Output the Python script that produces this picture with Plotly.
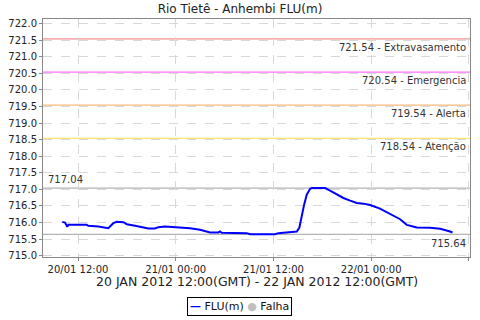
import plotly.graph_objects as go

times = [
    "2012-01-20 10:04", "2012-01-20 10:24", "2012-01-20 10:41", "2012-01-20 10:49",
    "2012-01-20 13:04", "2012-01-20 13:16", "2012-01-20 14:30", "2012-01-20 15:32",
    "2012-01-20 15:43", "2012-01-20 16:20", "2012-01-20 16:45", "2012-01-20 17:34",
    "2012-01-20 18:00", "2012-01-20 19:00", "2012-01-20 20:01", "2012-01-20 20:38",
    "2012-01-20 21:27", "2012-01-20 21:52", "2012-01-20 22:41", "2012-01-20 23:18",
    "2012-01-20 23:55", "2012-01-21 00:56", "2012-01-21 01:45", "2012-01-21 02:59",
    "2012-01-21 04:13", "2012-01-21 05:14", "2012-01-21 05:26", "2012-01-21 05:39",
    "2012-01-21 08:43", "2012-01-21 09:08", "2012-01-21 12:12", "2012-01-21 12:36",
    "2012-01-21 13:38", "2012-01-21 14:52", "2012-01-21 15:11", "2012-01-21 15:21",
    "2012-01-21 15:29", "2012-01-21 15:46", "2012-01-21 16:05", "2012-01-21 16:30",
    "2012-01-21 16:42", "2012-01-21 18:20", "2012-01-21 18:57", "2012-01-21 19:47",
    "2012-01-21 20:35", "2012-01-21 21:25", "2012-01-21 22:14", "2012-01-21 23:03",
    "2012-01-21 23:52", "2012-01-22 01:05", "2012-01-22 02:19", "2012-01-22 03:33",
    "2012-01-22 04:22", "2012-01-22 05:36", "2012-01-22 07:14", "2012-01-22 08:28",
    "2012-01-22 09:41", "2012-01-22 09:59",
]
flu = [
    716.02, 716.00, 715.87, 715.93,
    715.93, 715.90, 715.88, 715.83,
    715.83, 715.98, 716.02, 716.01,
    715.95, 715.90, 715.85, 715.82,
    715.82, 715.86, 715.88, 715.87,
    715.87, 715.85, 715.83, 715.78,
    715.70, 715.70, 715.73, 715.69,
    715.68, 715.65, 715.65, 715.68,
    715.71, 715.73, 715.85, 716.05,
    716.30, 716.54, 716.84, 717.02,
    717.04, 717.04, 716.96, 716.84,
    716.74, 716.66, 716.59, 716.57,
    716.53, 716.42, 716.27, 716.10,
    715.93, 715.85, 715.84, 715.81,
    715.73, 715.70,
]

threshold_values = [721.54, 720.54, 719.54, 718.54]
threshold_names = ["Extravasamento", "Emergencia", "Alerta", "Atenção"]
threshold_colors = ["#f09090", "#ff70ff", "#f8b878", "#ffe270"]

max_value = 717.04
min_value = 715.64

x_range = ["2012-01-20 07:42", "2012-01-22 12:08"]
y_range = [714.96, 722.14]

title = "Rio Tietê - Anhembi FLU(m)"
x_title = "20 JAN 2012 12:00(GMT) - 22 JAN 2012 12:00(GMT)"
series_name = "FLU(m)"
fail_name = "Falha"
series_color = "#0000ff"
fail_color = "#c0c0c0"

fig = go.Figure()

fig.add_trace(go.Scatter(
    x=times, y=flu, mode="lines", name=series_name,
    line=dict(color=series_color, width=2), showlegend=False,
))
fig.add_trace(go.Scatter(
    x=[None], y=[None], mode="markers", name=fail_name,
    marker=dict(color=fail_color, size=9), showlegend=False,
))

shapes = []
annotations = []
for v, n, c in zip(threshold_values, threshold_names, threshold_colors):
    shapes.append(dict(type="line", xref="paper", yref="y", x0=0, x1=1, y0=v, y1=v,
                       line=dict(color=c, width=1.2), layer="below"))
    annotations.append(dict(xref="paper", yref="y", x=0.995, y=v, text=f"{v:.2f} - {n}",
                            showarrow=False, xanchor="right", yanchor="top", yshift=-1,
                            font=dict(family="DejaVu Sans", size=10, color="#333333")))

for v in (max_value, min_value):
    shapes.append(dict(type="line", xref="paper", yref="y", x0=0, x1=1, y0=v, y1=v,
                       line=dict(color="#b4b4b4", width=1.2), layer="below"))
annotations.append(dict(xref="paper", yref="y", x=0.008, y=max_value, text=f"{max_value:.2f}",
                        showarrow=False, xanchor="left", yanchor="bottom", yshift=1,
                        font=dict(family="DejaVu Sans", size=10, color="#333333")))
annotations.append(dict(xref="paper", yref="y", x=0.995, y=min_value, text=f"{min_value:.2f}",
                        showarrow=False, xanchor="right", yanchor="top", yshift=-2,
                        font=dict(family="DejaVu Sans", size=10, color="#333333")))
annotations.append(dict(xref="paper", yref="paper", x=0.502, y=-0.105,
                        text=x_title, showarrow=False, xanchor="center", yanchor="middle",
                        font=dict(family="DejaVu Sans", size=12.5, color="#222222")))
# compact boxed legend
legend_text = (f"<span style='color:{series_color}'><b>—</b></span> {series_name} "
               f"<span style='color:{fail_color}'>●</span> {fail_name}")
annotations.append(dict(xref="paper", yref="paper", x=0.461, y=-0.21,
                        text=legend_text, showarrow=False, xanchor="center", yanchor="middle",
                        bordercolor="black", borderwidth=1, borderpad=2, bgcolor="white",
                        font=dict(family="DejaVu Sans", size=11, color="#111111")))

fig.update_layout(
    width=480, height=320,
    margin=dict(l=43, r=10, t=19, b=63, autoexpand=False),
    paper_bgcolor="white", plot_bgcolor="white",
    title=dict(text=title, x=0.5, xanchor="center", y=0.985, yanchor="top",
               font=dict(family="DejaVu Sans", size=12, color="#222222")),
    font=dict(family="DejaVu Sans", size=10, color="#222222"),
    shapes=shapes, annotations=annotations,
    showlegend=False,
)

fig.update_xaxes(
    type="date", range=x_range,
    tick0="2012-01-20 12:00", dtick=12 * 3600 * 1000, tickformat="%d/%m %H:%M",
    showgrid=True, gridcolor="#d8d8d8", griddash="dash", gridwidth=1,
    showline=True, linecolor="#888888", mirror=True,
    ticks="outside", ticklen=3, tickcolor="#888888",
    tickfont=dict(family="DejaVu Sans", size=10, color="#222222"),
    zeroline=False,
)
fig.update_yaxes(
    range=y_range, tick0=715, dtick=0.5, tickformat=".1f",
    showgrid=True, gridcolor="#d8d8d8", griddash="dash", gridwidth=1,
    showline=True, linecolor="#888888", mirror=True,
    ticks="outside", ticklen=3, tickcolor="#888888",
    tickfont=dict(family="DejaVu Sans", size=10, color="#222222"),
    zeroline=False,
)

fig.write_html("out.html")
